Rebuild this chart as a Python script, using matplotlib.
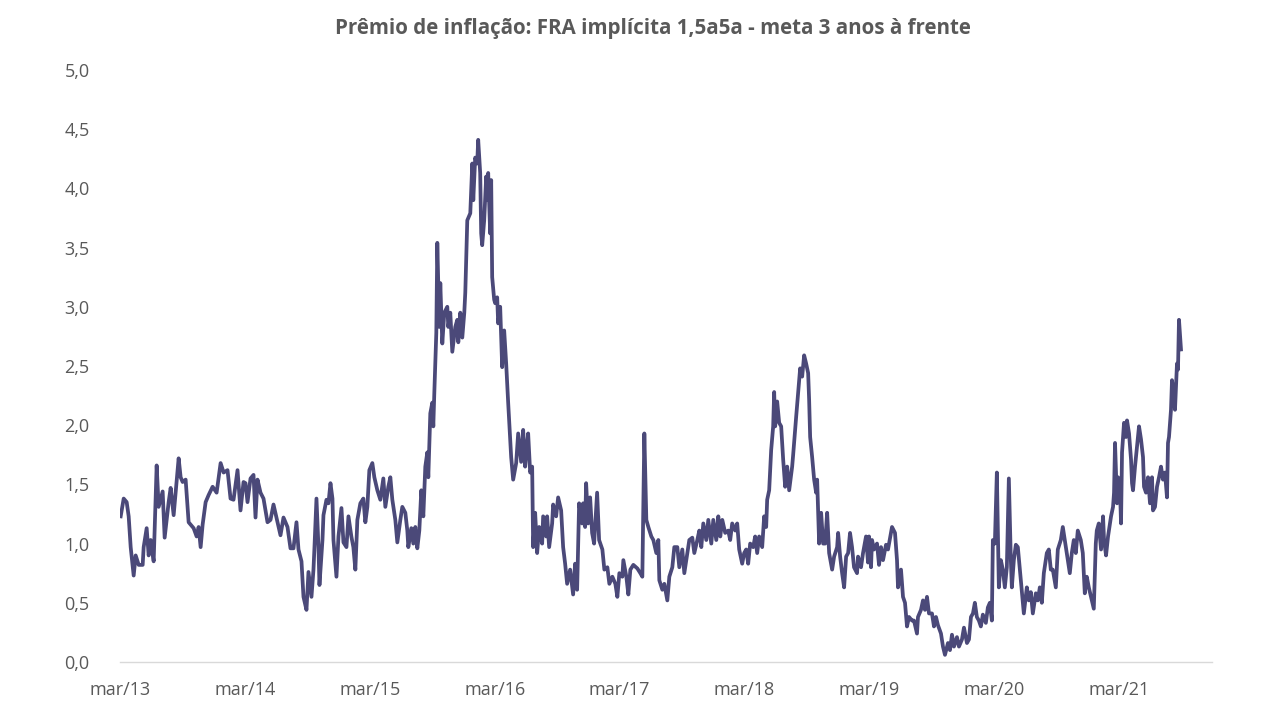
import numpy as np
import pandas as pd
import matplotlib
matplotlib.use("Agg")
import matplotlib.pyplot as plt
from matplotlib.ticker import FuncFormatter

# Time of observation, decimal years
t = [
2013.167,2013.191,2013.215,2013.231,2013.247,2013.271,2013.287,2013.311,2013.343,2013.351,
2013.375,2013.391,2013.407,2013.431,2013.455,2013.471,2013.503,2013.519,2013.551,2013.567,
2013.591,2013.631,2013.647,2013.663,2013.687,2013.711,2013.751,2013.775,2013.791,2013.807,
2013.823,2013.847,2013.871,2013.903,2013.935,2013.967,2013.991,2014.023,2014.047,2014.071,
2014.103,2014.127,2014.151,2014.167,2014.183,2014.207,2014.231,2014.247,2014.263,2014.287,
2014.311,2014.343,2014.367,2014.391,2014.423,2014.447,2014.471,2014.503,2014.527,2014.551,
2014.575,2014.591,2014.615,2014.631,2014.655,2014.671,2014.695,2014.711,2014.719,2014.735,
2014.751,2014.759,2014.783,2014.791,2014.815,2014.831,2014.847,2014.863,2014.871,2014.895,
2014.911,2014.935,2014.951,2014.975,2014.991,2015.015,2015.031,2015.047,2015.063,2015.087,
2015.111,2015.127,2015.143,2015.159,2015.183,2015.199,2015.223,2015.247,2015.271,2015.287,
2015.311,2015.327,2015.343,2015.367,2015.383,2015.407,2015.423,2015.447,2015.463,2015.471,
2015.495,2015.511,2015.527,2015.543,2015.559,2015.575,2015.591,2015.607,2015.623,2015.631,
2015.647,2015.663,2015.671,2015.679,2015.695,2015.703,2015.719,2015.727,2015.743,2015.759,
2015.783,2015.791,2015.807,2015.823,2015.847,2015.863,2015.871,2015.887,2015.903,2015.919,
2015.927,2015.943,2015.967,2015.983,2015.991,2016.007,2016.023,2016.031,2016.047,2016.055,
2016.063,2016.079,2016.095,2016.103,2016.111,2016.127,2016.135,2016.143,2016.159,2016.167,
2016.183,2016.191,2016.207,2016.223,2016.239,2016.255,2016.271,2016.295,2016.311,2016.335,
2016.351,2016.375,2016.391,2016.407,2016.423,2016.431,2016.447,2016.463,2016.471,2016.487,
2016.503,2016.519,2016.543,2016.551,2016.575,2016.583,2016.599,2016.623,2016.631,2016.655,
2016.671,2016.695,2016.711,2016.727,2016.743,2016.767,2016.791,2016.807,2016.823,2016.839,
2016.863,2016.871,2016.887,2016.895,2016.911,2016.927,2016.943,2016.959,2016.983,2016.999,
2017.023,2017.039,2017.063,2017.079,2017.103,2017.127,2017.143,2017.159,2017.183,2017.191,
2017.215,2017.231,2017.247,2017.271,2017.303,2017.327,2017.343,2017.359,2017.375,2017.391,
2017.415,2017.431,2017.455,2017.471,2017.479,2017.503,2017.519,2017.543,2017.559,2017.583,
2017.599,2017.623,2017.639,2017.663,2017.679,2017.703,2017.719,2017.743,2017.759,2017.783,
2017.799,2017.815,2017.831,2017.855,2017.871,2017.895,2017.911,2017.935,2017.951,2017.967,
2017.983,2018.007,2018.031,2018.047,2018.063,2018.087,2018.103,2018.119,2018.143,2018.159,
2018.175,2018.191,2018.207,2018.231,2018.247,2018.263,2018.279,2018.303,2018.319,2018.335,
2018.343,2018.359,2018.375,2018.391,2018.399,2018.407,2018.423,2018.439,2018.455,2018.471,
2018.487,2018.503,2018.519,2018.543,2018.551,2018.575,2018.591,2018.607,2018.623,2018.639,
2018.655,2018.671,2018.679,2018.687,2018.703,2018.719,2018.735,2018.743,2018.759,2018.775,
2018.791,2018.807,2018.823,2018.839,2018.863,2018.879,2018.903,2018.911,2018.927,2018.943,
2018.959,2018.975,2018.991,2019.007,2019.023,2019.039,2019.063,2019.071,2019.095,2019.111,
2019.135,2019.151,2019.159,2019.175,2019.183,2019.199,2019.223,2019.239,2019.255,2019.271,
2019.295,2019.311,2019.343,2019.367,2019.383,2019.391,2019.415,2019.431,2019.447,2019.463,
2019.479,2019.503,2019.519,2019.543,2019.551,2019.575,2019.591,2019.607,2019.623,2019.639,
2019.663,2019.679,2019.695,2019.711,2019.735,2019.751,2019.767,2019.791,2019.807,2019.823,
2019.839,2019.863,2019.879,2019.903,2019.919,2019.943,2019.959,2019.975,2019.991,2020.007,
2020.023,2020.039,2020.055,2020.071,2020.095,2020.111,2020.127,2020.143,2020.151,2020.167,
2020.183,2020.199,2020.215,2020.231,2020.247,2020.263,2020.279,2020.295,2020.303,2020.319,
2020.335,2020.351,2020.367,2020.383,2020.399,2020.423,2020.439,2020.455,2020.471,2020.495,
2020.511,2020.527,2020.543,2020.559,2020.583,2020.599,2020.615,2020.631,2020.655,2020.671,
2020.695,2020.711,2020.727,2020.743,2020.767,2020.783,2020.799,2020.815,2020.831,2020.855,
2020.871,2020.887,2020.903,2020.919,2020.943,2020.959,2020.975,2020.983,2020.999,2021.015,
2021.031,2021.039,2021.055,2021.071,2021.095,2021.111,2021.119,2021.127,2021.143,2021.151,
2021.167,2021.175,2021.183,2021.199,2021.215,2021.223,2021.239,2021.255,2021.263,2021.271,
2021.287,2021.303,2021.319,2021.335,2021.351,2021.359,2021.375,2021.391,2021.407,2021.423,
2021.431,2021.447,2021.463,2021.479,2021.495,2021.511,2021.527,2021.543,2021.551,2021.559,
2021.575,2021.583,2021.591,2021.607,2021.623,2021.631,2021.639,2021.655,
]

# Inflation premium (p.p.)
premio = [
1.23,1.38,1.35,1.23,0.97,0.73,0.90,0.82,0.82,0.97,
1.13,0.90,1.03,0.85,1.66,1.31,1.44,1.05,1.35,1.47,
1.24,1.72,1.56,1.52,1.54,1.18,1.13,1.06,1.14,0.97,
1.16,1.35,1.41,1.48,1.43,1.68,1.60,1.62,1.38,1.37,
1.62,1.28,1.52,1.51,1.35,1.55,1.58,1.22,1.54,1.43,
1.38,1.18,1.20,1.33,1.18,1.07,1.22,1.14,0.96,0.96,
1.18,0.95,0.85,0.55,0.44,0.76,0.55,0.78,0.97,1.38,
0.97,0.65,1.03,1.24,1.37,1.34,1.51,1.38,1.03,0.72,
1.06,1.30,1.01,0.97,1.23,1.06,0.97,0.78,1.20,1.34,
1.38,1.18,1.31,1.62,1.68,1.56,1.45,1.37,1.55,1.31,
1.48,1.56,1.37,1.20,1.01,1.20,1.31,1.26,1.11,0.97,
1.13,1.00,1.14,0.96,1.11,1.45,1.23,1.65,1.77,1.56,
2.10,2.19,1.99,2.27,2.78,3.54,2.83,3.20,2.69,2.95,
3.00,2.83,2.95,2.62,2.83,2.89,2.70,2.95,2.74,2.95,
3.12,3.73,3.79,4.21,3.90,4.26,4.21,4.41,4.13,3.62,
3.52,3.73,4.10,3.90,4.13,3.62,4.07,3.25,3.06,3.03,
3.08,2.86,3.00,2.49,2.80,2.52,2.19,1.73,1.54,1.68,
1.93,1.69,1.96,1.65,1.85,1.93,1.60,1.65,0.97,1.26,
0.92,1.14,1.00,1.23,1.06,1.23,0.97,1.17,1.33,1.23,
1.39,1.28,0.97,0.83,0.66,0.78,0.57,0.83,0.61,1.34,
1.17,1.34,1.14,1.51,1.17,1.39,1.09,1.00,1.43,1.03,
0.95,0.78,0.80,0.66,0.72,0.66,0.55,0.75,0.72,0.86,
0.72,0.57,0.78,0.82,0.79,0.75,0.72,1.93,1.20,1.14,
1.06,1.03,0.92,1.03,0.69,0.61,0.66,0.52,0.72,0.80,
0.97,0.97,0.80,0.95,0.75,0.92,1.03,1.05,0.92,1.03,
1.11,0.97,1.17,1.03,1.20,1.00,1.20,1.03,1.23,1.06,
1.20,1.09,1.11,1.03,1.17,1.11,1.17,0.95,0.83,0.92,
0.95,0.83,1.00,0.97,1.06,0.92,1.06,0.97,1.23,1.14,
1.37,1.45,1.79,1.99,2.28,1.99,2.20,2.02,1.99,1.71,
1.48,1.65,1.45,1.65,1.75,2.07,2.27,2.48,2.41,2.59,
2.52,2.44,2.21,1.90,1.73,1.54,1.43,1.54,1.00,1.26,
1.00,1.00,1.26,0.92,0.78,0.89,0.97,1.09,0.89,0.75,
0.63,0.89,0.92,1.09,0.97,0.80,0.75,0.89,0.80,0.92,
1.06,0.84,1.06,0.80,1.03,0.95,1.00,0.82,0.97,0.86,
0.99,0.95,1.14,1.09,0.86,0.63,0.78,0.55,0.50,0.30,
0.38,0.35,0.35,0.24,0.38,0.44,0.52,0.44,0.55,0.41,
0.41,0.30,0.38,0.31,0.24,0.13,0.06,0.16,0.10,0.23,
0.13,0.21,0.13,0.19,0.29,0.16,0.19,0.38,0.41,0.50,
0.38,0.35,0.30,0.40,0.33,0.46,0.50,0.35,1.03,1.00,
1.60,0.63,0.86,0.78,0.63,0.80,1.55,0.86,0.63,0.86,
0.99,0.97,0.78,0.58,0.41,0.63,0.52,0.59,0.41,0.58,
0.52,0.63,0.50,0.75,0.92,0.95,0.78,0.78,0.63,0.95,
1.03,1.14,1.03,0.92,0.75,0.92,1.03,0.92,1.11,1.03,
0.92,0.58,0.72,0.63,0.52,0.45,1.00,1.11,1.17,0.95,
1.23,1.03,0.90,1.06,1.23,1.31,1.43,1.85,1.34,1.56,
1.45,1.17,1.77,2.02,1.90,2.04,1.93,1.71,1.51,1.45,
1.65,1.82,1.99,1.88,1.73,1.48,1.43,1.56,1.34,1.56,
1.28,1.31,1.48,1.56,1.65,1.54,1.60,1.39,1.85,1.90,
2.13,2.38,2.32,2.13,2.52,2.47,2.89,2.64,
]

tick_years = [2013, 2014, 2015, 2016, 2017, 2018, 2019, 2020, 2021]
tick_labels = ["mar/13", "mar/14", "mar/15", "mar/16", "mar/17",
               "mar/18", "mar/19", "mar/20", "mar/21"]
y_ticks = [0.0, 0.5, 1.0, 1.5, 2.0, 2.5, 3.0, 3.5, 4.0, 4.5, 5.0]
title = "Prêmio de inflação: FRA implícita 1,5a5a - meta 3 anos à frente"


def to_date(v):
    y = int(np.floor(v))
    return pd.Timestamp(year=y, month=1, day=1) + pd.Timedelta(days=(v - y) * 365.25)


dates = [to_date(v) for v in t]

plt.rcParams['font.family'] = ['Open Sans', 'DejaVu Sans']

fig = plt.figure(figsize=(12.8, 7.2), dpi=100)
ax = fig.add_axes([0.09375, 0.0806, 0.8531, 0.8222])

ax.plot(dates, premio, color="#4b4979", lw=2.7, solid_joinstyle="round")

ax.set_ylim(0, 5)
ax.set_xlim(pd.Timestamp("2013-03-01"), to_date(2021.903))

ax.set_yticks(y_ticks)
ax.yaxis.set_major_formatter(FuncFormatter(lambda v, p: f"{v:.1f}".replace(".", ",")))
ax.set_xticks([pd.Timestamp(year=y, month=3, day=1) for y in tick_years])
ax.set_xticklabels(tick_labels)

for s in ["top", "right", "left"]:
    ax.spines[s].set_visible(False)
ax.spines["bottom"].set_color("#d9d9d9")
ax.spines["bottom"].set_linewidth(1.0)

ax.tick_params(axis="both", length=0, labelsize=13, labelcolor="#595959")
ax.tick_params(axis="y", pad=22)
ax.tick_params(axis="x", pad=14)

fig.text(0.51, 0.960, title, ha="center", va="center", fontsize=14.8,
         fontweight="bold", color="#595959")

fig.savefig("out.png", dpi=100)
